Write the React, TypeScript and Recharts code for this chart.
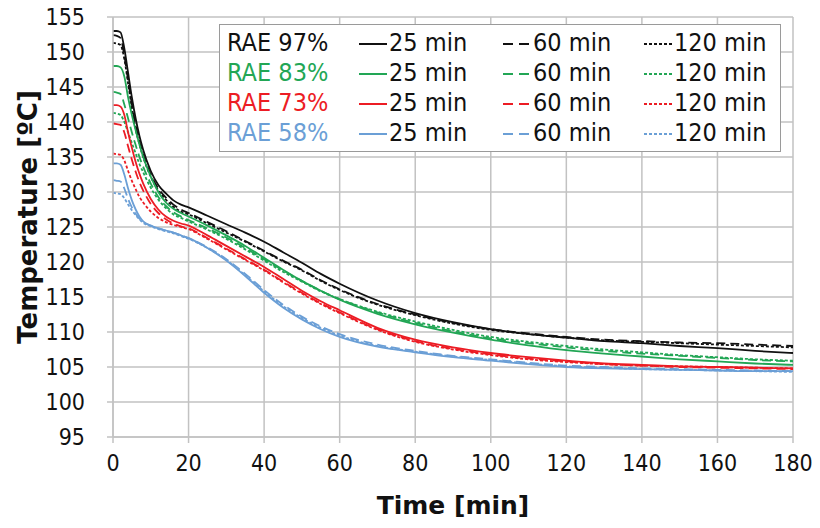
import React from 'react';
import { LineChart, Line, XAxis, YAxis, CartesianGrid, Label } from 'recharts';

// time axis shared by every curve (min)
const times = [0, 1, 2, 3, 4, 5, 6, 7, 8, 10, 12, 14, 16, 18, 20, 25, 30, 35, 40, 45, 50, 55, 60, 70, 80, 90, 100, 110, 120, 130, 140, 150, 160, 170, 180];

// RAE 97%
const rae97_25 = [153.0, 153.0, 152.8, 150.5, 147.0, 143.5, 140.5, 138.0, 136.0, 133.0, 131.0, 129.8, 128.8, 128.2, 127.8, 126.6, 125.4, 124.2, 122.9, 121.4, 119.9, 118.3, 116.9, 114.5, 112.7, 111.4, 110.4, 109.7, 109.2, 108.7, 108.4, 108.0, 107.7, 107.3, 107.0];
const rae97_60 = [152.4, 152.3, 152.0, 149.5, 146.0, 142.5, 139.5, 137.2, 135.3, 132.5, 130.5, 129.2, 128.2, 127.5, 127.0, 125.7, 124.4, 123.0, 121.6, 120.2, 118.9, 117.4, 116.1, 114.0, 112.5, 111.3, 110.4, 109.8, 109.3, 108.9, 108.7, 108.5, 108.4, 108.2, 108.0];
const rae97_120 = [151.3, 151.2, 151.0, 149.0, 145.5, 142.0, 139.0, 136.8, 135.0, 132.2, 130.2, 128.9, 127.9, 127.2, 126.8, 125.5, 124.2, 122.9, 121.5, 120.1, 118.8, 117.3, 116.0, 113.9, 112.4, 111.2, 110.3, 109.7, 109.2, 108.8, 108.6, 108.4, 108.2, 108.0, 107.8];

// RAE 83%
const rae83_25 = [148.0, 148.0, 147.8, 146.5, 143.5, 141.0, 138.8, 136.8, 135.0, 132.2, 130.0, 128.5, 127.6, 127.0, 126.5, 125.2, 123.8, 122.3, 120.6, 118.9, 117.3, 115.9, 114.6, 112.6, 111.1, 109.9, 108.9, 108.1, 107.4, 106.9, 106.5, 106.1, 105.8, 105.5, 105.3];
const rae83_60 = [144.3, 144.2, 144.0, 142.5, 140.5, 138.5, 136.7, 135.0, 133.6, 131.2, 129.3, 128.0, 127.1, 126.5, 126.0, 124.8, 123.5, 122.0, 120.4, 118.8, 117.3, 115.9, 114.7, 112.8, 111.3, 110.1, 109.1, 108.4, 107.8, 107.3, 106.9, 106.6, 106.3, 106.0, 105.8];
const rae83_120 = [141.3, 141.2, 141.0, 140.0, 138.5, 137.0, 135.5, 134.0, 132.8, 130.6, 128.9, 127.7, 126.8, 126.3, 125.8, 124.6, 123.3, 121.8, 120.2, 118.6, 117.2, 115.8, 114.7, 112.9, 111.5, 110.3, 109.3, 108.6, 108.0, 107.5, 107.1, 106.7, 106.4, 106.1, 105.9];

// RAE 73%
const rae73_25 = [142.4, 142.4, 142.2, 141.0, 138.5, 136.3, 134.3, 132.6, 131.2, 129.0, 127.5, 126.5, 125.9, 125.5, 125.2, 123.8, 122.3, 120.8, 119.3, 117.6, 115.9, 114.4, 113.1, 110.6, 108.9, 107.8, 107.0, 106.4, 105.9, 105.5, 105.3, 105.1, 105.0, 104.9, 104.8];
const rae73_60 = [139.8, 139.7, 139.6, 138.5, 136.5, 134.6, 132.9, 131.4, 130.2, 128.3, 127.0, 126.1, 125.5, 125.1, 124.8, 123.4, 121.9, 120.4, 118.9, 117.2, 115.6, 114.1, 112.8, 110.4, 108.7, 107.6, 106.8, 106.2, 105.8, 105.4, 105.2, 105.0, 104.9, 104.8, 104.7];
const rae73_120 = [135.5, 135.4, 135.3, 134.5, 133.0, 131.6, 130.4, 129.3, 128.5, 127.2, 126.3, 125.7, 125.3, 125.0, 124.7, 123.3, 121.8, 120.3, 118.8, 117.1, 115.5, 114.0, 112.7, 110.3, 108.6, 107.5, 106.7, 106.1, 105.7, 105.4, 105.2, 105.1, 105.0, 104.9, 104.8];

// RAE 58%
const rae58_25 = [134.1, 134.1, 133.9, 132.5, 130.5, 128.8, 127.5, 126.5, 125.8, 125.2, 124.8, 124.5, 124.2, 123.8, 123.4, 122.0, 120.2, 118.0, 115.6, 113.5, 111.8, 110.4, 109.3, 107.9, 107.1, 106.4, 105.9, 105.4, 105.0, 104.8, 104.7, 104.6, 104.5, 104.4, 104.4];
const rae58_60 = [131.7, 131.6, 131.5, 130.5, 129.0, 127.8, 126.9, 126.2, 125.7, 125.2, 124.8, 124.5, 124.2, 123.8, 123.4, 122.1, 120.4, 118.3, 116.0, 113.9, 112.2, 110.8, 109.7, 108.2, 107.3, 106.6, 106.1, 105.6, 105.2, 105.0, 104.8, 104.7, 104.6, 104.5, 104.4];
const rae58_120 = [129.9, 129.8, 129.7, 129.1, 128.2, 127.4, 126.7, 126.1, 125.6, 125.1, 124.7, 124.4, 124.1, 123.7, 123.3, 122.0, 120.3, 118.1, 115.8, 113.7, 112.0, 110.6, 109.5, 108.0, 107.2, 106.5, 106.0, 105.5, 105.1, 104.9, 104.7, 104.6, 104.5, 104.4, 104.3];

const groupLabels = ['RAE 97%', 'RAE 83%', 'RAE 73%', 'RAE 58%'];
const durationLabels = ['25 min', '60 min', '120 min'];
const seriesTable = [
  [rae97_25, rae97_60, rae97_120],
  [rae83_25, rae83_60, rae83_120],
  [rae73_25, rae73_60, rae73_120],
  [rae58_25, rae58_60, rae58_120],
];

const xTicks = [0, 20, 40, 60, 80, 100, 120, 140, 160, 180];
const yTicks = [95, 100, 105, 110, 115, 120, 125, 130, 135, 140, 145, 150, 155];

// styling
const groupColors = ['#111111', '#22a655', '#ec1c24', '#6b9fd6'];
const durationDash = [undefined, '9 5', '3 2'];
const legendDash = [undefined, '10 6', '3 2'];
const FONT = '"DejaVu Sans Condensed", "DejaVu Sans", Verdana, sans-serif';
const TITLE_FONT = '"DejaVu Sans", Verdana, sans-serif';
const GRID = '#c2c2c2';

const legendLineX = [139, 283, 424];

function LegendBox() {
  return (
    <div
      style={{
        position: 'absolute',
        left: 219,
        top: 24,
        width: 562,
        height: 128,
        boxSizing: 'border-box',
        border: '1px solid #9a9a9a',
        background: '#fff',
        fontFamily: FONT,
        fontStretch: 'condensed',
        fontSize: 25,
        paddingTop: 3,
      }}
    >
      {groupLabels.map((g, gi) => (
        <div key={g} style={{ position: 'relative', height: 30, lineHeight: '30px' }}>
          <span style={{ position: 'absolute', left: 7, color: groupColors[gi] }}>{g}</span>
          {durationLabels.map((d, di) => (
            <React.Fragment key={d}>
              <svg
                width={28}
                height={30}
                style={{ position: 'absolute', left: legendLineX[di], top: 0 }}
              >
                <line
                  x1={0}
                  x2={28}
                  y1={16}
                  y2={16}
                  stroke={groupColors[gi]}
                  strokeWidth={2}
                  strokeDasharray={legendDash[di]}
                />
              </svg>
              <span style={{ position: 'absolute', left: legendLineX[di] + 30, color: '#111' }}>{d}</span>
            </React.Fragment>
          ))}
        </div>
      ))}
    </div>
  );
}

export default function App() {
  const data = times.map((t, i) => {
    const row: Record<string, number> = { t };
    seriesTable.forEach((grp, gi) =>
      grp.forEach((vals, di) => {
        row[`s${gi}_${di}`] = vals[i];
      })
    );
    return row;
  });

  const tickStyle = { fill: '#111', fontSize: 23, fontFamily: FONT, fontStretch: 'condensed' };

  return (
    <div style={{ position: 'absolute', left: 0, top: 0, width: 820, height: 528, background: '#fff' }}>
      <LineChart width={820} height={528} data={data} margin={{ top: 17, right: 27, left: 0, bottom: 0 }}>
        <CartesianGrid stroke={GRID} strokeWidth={1.5} />
        <XAxis
          dataKey="t"
          type="number"
          domain={[0, 180]}
          ticks={xTicks}
          height={91}
          stroke={GRID}
          strokeWidth={1.5}
          tickSize={6}
          tickMargin={12}
          tick={tickStyle}
        >
          <Label
            content={({ viewBox }: any) => (
              <text
                x={viewBox.x + viewBox.width / 2}
                y={505}
                textAnchor="middle"
                dominantBaseline="central"
                fontFamily={TITLE_FONT}
                fontWeight="bold"
                fontSize={25}
                fill="#111"
              >
                Time [min]
              </text>
            )}
          />
        </XAxis>
        <YAxis
          type="number"
          domain={[95, 155]}
          ticks={yTicks}
          width={113}
          stroke={GRID}
          strokeWidth={1.5}
          tickSize={6}
          tickMargin={22}
          tick={tickStyle}
        >
          <Label
            content={() => (
              <text
                x={28}
                y={217}
                transform="rotate(-90 28 217)"
                textAnchor="middle"
                dominantBaseline="central"
                fontFamily={TITLE_FONT}
                fontWeight="bold"
                fontSize={26}
                fill="#111"
              >
                Temperature [ºC]
              </text>
            )}
          />
        </YAxis>
        {seriesTable.map((grp, gi) =>
          grp.map((_, di) => (
            <Line
              key={`s${gi}_${di}`}
              dataKey={`s${gi}_${di}`}
              type="monotone"
              stroke={groupColors[gi]}
              strokeWidth={1.8}
              strokeDasharray={durationDash[di]}
              dot={false}
              activeDot={false}
              isAnimationActive={false}
            />
          ))
        )}
      </LineChart>
      <LegendBox />
    </div>
  );
}
